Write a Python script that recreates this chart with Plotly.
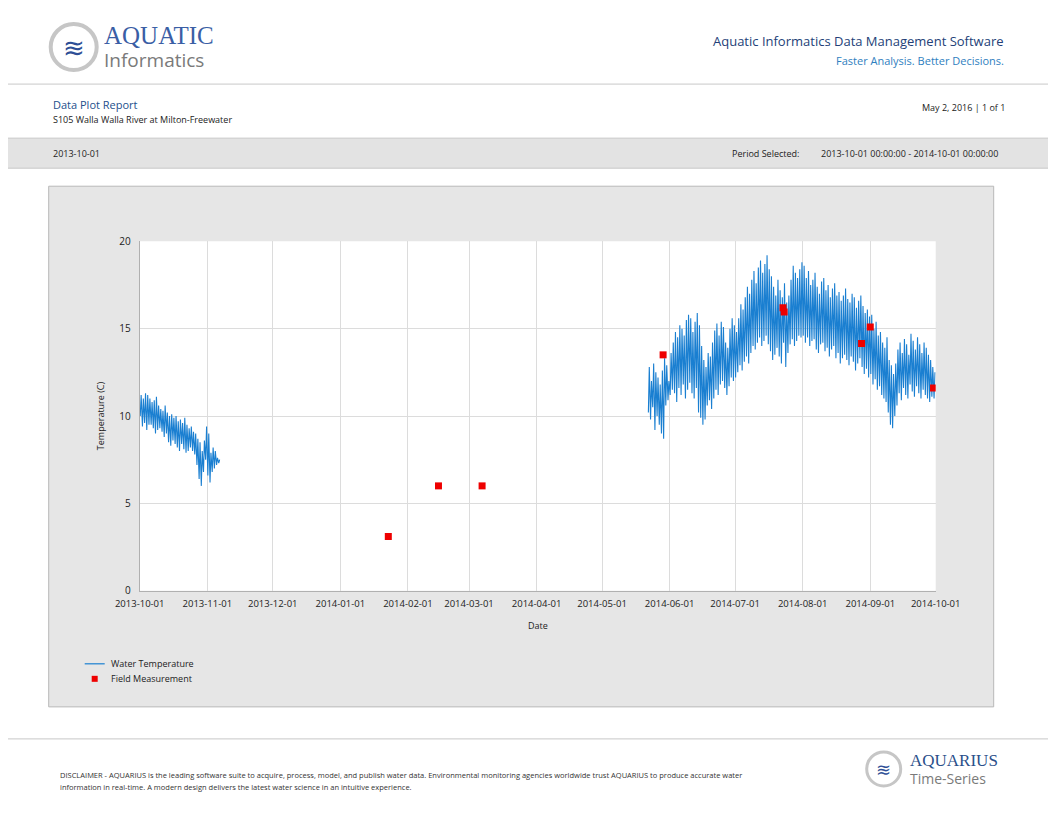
import pandas as pd
import plotly.graph_objects as go

W, H = 1056, 816

# daily min / max water temperature (C)
seg1_start = "2013-10-01"
seg1_max = [11.2, 11.0, 11.3, 11.2, 11.0, 10.8, 10.9, 11.1, 10.6, 10.4, 10.3, 10.6, 10.2, 10.0, 10.1,
            9.9, 10.0, 9.7, 9.8, 9.6, 9.9, 9.5, 9.3, 9.4, 9.1, 9.0, 8.7, 8.5, 8.0, 8.6, 9.4, 9.0,
            7.9, 8.2, 8.0, 7.6, 7.5]
seg1_min = [10.0, 9.4, 9.6, 9.2, 9.5, 9.5, 9.3, 9.0, 9.2, 9.3, 9.1, 8.8, 9.0, 8.5, 8.3,
            8.6, 8.4, 8.2, 8.0, 8.4, 8.1, 7.9, 8.0, 8.2, 8.0, 7.8, 7.2, 6.4, 6.0, 6.8, 7.5, 6.6,
            6.2, 6.8, 7.0, 7.2, 7.3]

seg2_start = "2014-05-22"
seg2_max = [12.8, 12.0, 13.0, 12.5, 12.2, 11.8, 12.6, 13.3, 12.9, 12.0,
            13.6, 14.2, 14.8, 14.5, 15.2, 15.0, 14.6, 15.5, 15.8, 15.6, 14.8, 15.4, 15.9, 15.2, 14.0,
            13.2, 12.8, 13.6, 13.4, 14.2, 14.9, 15.3, 14.6, 15.4, 15.1, 14.2, 13.9, 15.0, 15.6, 15.2,
            14.8, 15.6, 16.4, 16.1, 16.8, 17.4, 17.0, 17.8, 18.3, 17.6, 18.5, 18.9, 18.2, 18.7, 19.2,
            18.4, 18.0, 17.4, 16.9, 17.8, 17.2, 16.8, 17.6, 16.5, 16.9, 17.8, 18.6, 18.2, 17.9, 18.4, 18.8,
            18.6, 17.9, 18.3, 17.5, 17.8, 18.2, 17.4, 17.0, 17.7, 17.9, 17.2, 17.5, 16.8, 17.3, 17.6,
            16.9, 17.1, 16.6, 16.9, 17.3, 16.7, 16.5, 17.0, 16.8, 16.2, 16.6, 16.9, 16.3, 15.9, 16.1, 15.7,
            15.8, 15.0, 15.4, 14.6, 14.8, 14.2, 13.9, 14.5, 13.2, 12.9, 12.4, 13.0, 13.8, 14.2, 13.6,
            14.4, 14.1, 13.5, 14.7, 14.3, 13.8, 14.5, 14.1, 13.6, 14.2, 13.9, 13.5, 13.2, 12.8, 12.5]
seg2_min = [10.2, 9.8, 10.5, 9.2, 10.0, 9.5, 9.0, 8.7, 10.6, 10.9,
            11.2, 11.5, 11.3, 10.8, 11.6, 11.2, 11.8, 11.0, 11.5, 11.9, 11.3, 11.0, 11.6, 10.2, 9.9,
            9.5, 9.8, 10.6, 10.9, 10.4, 11.0, 11.5, 11.2, 11.8, 12.0, 11.6, 11.2, 11.7, 12.2, 12.0,
            12.2, 12.5, 12.9, 12.6, 13.1, 13.4, 13.0, 13.6, 14.0, 13.8, 14.2, 14.5, 14.0, 14.3, 14.6,
            14.1, 13.7, 13.2, 13.5, 13.9, 13.4, 13.0, 14.2, 12.8, 13.6, 14.1, 14.4, 14.0, 14.3, 14.6, 14.5,
            14.6, 14.2, 14.5, 14.0, 14.3, 14.4, 13.8, 13.6, 14.1, 14.2, 13.7, 13.9, 13.4, 13.8, 14.0,
            13.3, 13.6, 13.0, 13.3, 13.5, 13.2, 12.9, 13.4, 13.1, 12.6, 13.0, 13.3, 12.8, 12.4, 12.7, 12.2,
            12.4, 11.8, 12.1, 11.5, 11.7, 11.2, 11.0, 10.8, 10.2, 9.5, 9.3, 10.0, 10.6, 11.3, 10.9,
            11.6, 11.2, 11.0, 11.8, 11.4, 11.1, 11.7, 11.3, 11.0, 11.5, 11.2, 11.0, 10.8, 11.1, 11.0]

field_dates = ["2014-01-23 00:00", "2014-02-15 00:00", "2014-03-07 00:00", "2014-05-29 00:00",
               "2014-07-23 00:00", "2014-07-23 12:00", "2014-08-28 00:00", "2014-09-01 00:00",
               "2014-09-30 00:00"]
field_vals = [3.1, 6.0, 6.0, 13.5, 16.2, 15.95, 14.15, 15.1, 11.6]

LINE_C = "#1a7fd1"
MARK_C = "#ee0000"


def zigzag(start, mins, maxs):
    days = pd.date_range(start, periods=len(mins), freq="D")
    xs, ys = [], []
    for d, lo, hi in zip(days, mins, maxs):
        xs += [d + pd.Timedelta(hours=6), d + pd.Timedelta(hours=16)]
        ys += [lo, hi]
    return xs, ys


x1, y1 = zigzag(seg1_start, seg1_min, seg1_max)
x2, y2 = zigzag(seg2_start, seg2_min, seg2_max)
xs = x1 + [None] + x2
ys = y1 + [None] + y2

# page-pixel -> paper fraction (the page shows the paper offset/shrunk a little)
OX, OY, PW, PH = 32.3, 15.0, 1006.0, 802.0


def px(x):
    return (x - OX) / PW


def py(y):
    return 1 - (y - OY) / PH


fig = go.Figure()
fig.add_trace(go.Scatter(x=xs, y=ys, mode="lines", name="Water Temperature",
                         line=dict(color=LINE_C, width=1.1), connectgaps=False))
fig.add_trace(go.Scatter(x=field_dates, y=field_vals, mode="markers", name="Field Measurement",
                         marker=dict(symbol="square", color=MARK_C, size=7)))


def pshape(**kw):
    kw.setdefault("xref", "paper")
    kw.setdefault("yref", "paper")
    return kw


shapes = [
    pshape(type="line", x0=px(0), x1=px(W), y0=py(84), y1=py(84), line=dict(color="#c8c8c8", width=1)),
    pshape(type="rect", x0=px(-2), x1=px(W + 2), y0=py(168), y1=py(138), fillcolor="#e3e3e3", line=dict(color="#c8c8c8", width=1)),
    pshape(type="rect", x0=px(48), x1=px(993), y0=py(706), y1=py(186), fillcolor="#e6e6e6",
           line=dict(color="#b8b8b8", width=1), layer="below"),
    pshape(type="rect", x0=px(139), x1=px(935), y0=py(590), y1=py(241), fillcolor="white",
           line=dict(width=0), layer="below"),
    pshape(type="line", x0=px(0), x1=px(W), y0=py(738), y1=py(738), line=dict(color="#c8c8c8", width=1)),
    pshape(type="circle", x0=px(50), x1=px(96), y0=py(70), y1=py(24), line=dict(color="#c6c6c6", width=4), fillcolor="white"),
    pshape(type="circle", x0=px(866), x1=px(900), y0=py(785), y1=py(751), line=dict(color="#c6c6c6", width=3), fillcolor="white"),
    # manual legend swatches
    pshape(type="line", x0=px(84), x1=px(104), y0=py(663), y1=py(663), line=dict(color=LINE_C, width=1.2)),
    pshape(type="rect", x0=px(91), x1=px(97), y0=py(681), y1=py(675), fillcolor=MARK_C, line=dict(width=0)),
]

F = "Open Sans, Arial, sans-serif"
ann = []


def txt(x, y, s, size, color="#333", anchor="left", family=F, **kw):
    ann.append(dict(x=px(x), y=py(y), xref="paper", yref="paper", text=s, showarrow=False,
                    xanchor=anchor, yanchor="middle", font=dict(size=size, color=color, family=family), **kw))


txt(73, 47, "≋", 26, "#2e4f96", anchor="center")
txt(101, 35, "AQUATIC", 25, "#3a5ea5", family="Liberation Serif, serif")
txt(101, 60, "Informatics", 19, "#7a7a7a")
txt(1005, 41, "Aquatic Informatics Data Management Software", 13, "#243f78", anchor="right")
txt(1005, 60, "Faster Analysis. Better Decisions.", 11, "#2f80c0", anchor="right")
txt(50, 104, "Data Plot Report", 11, "#244f8c")
txt(50, 119, "S105 Walla Walla River at Milton-Freewater", 9, "#222")
txt(1006, 107, "May 2, 2016 | 1 of 1", 9, "#222", anchor="right")
txt(50, 153, "2013-10-01", 9, "#222")
txt(729, 153, "Period Selected:", 9, "#222")
txt(818, 153, "2013-10-01 00:00:00 - 2014-10-01 00:00:00", 9, "#222")
txt(100, 415, "Temperature (C)", 9, "#222", anchor="center", textangle=-90)
txt(537, 625, "Date", 9, "#222", anchor="center")
txt(108, 663, "Water Temperature", 9, "#222")
txt(108, 678, "Field Measurement", 9, "#222")
txt(57, 774, "DISCLAIMER - AQUARIUS is the leading software suite to acquire, process, model, and publish water data. "
    "Environmental monitoring agencies worldwide trust AQUARIUS to produce accurate water", 7.5, "#333")
txt(57, 786, "information in real-time. A modern design delivers the latest water science in an intuitive experience.", 7.5, "#333")
txt(883, 768, "≋", 18, "#2e4f96", anchor="center")
txt(907, 760, "AQUARIUS", 17, "#2b4f8a", family="Liberation Serif, serif")
txt(907, 778, "Time-Series", 14, "#7a7a7a")

fig.update_layout(
    width=W, height=H, margin=dict(l=0, r=0, t=0, b=0),
    paper_bgcolor="white", plot_bgcolor="white",
    font=dict(family=F, size=10, color="#222"),
    shapes=shapes, annotations=ann,
    showlegend=False,
    xaxis=dict(domain=[px(139), px(935)], range=["2013-10-01", "2014-10-01"], type="date",
               dtick="M1", tick0="2013-10-01", tickformat="%Y-%m-%d", showgrid=True, gridcolor="#dcdcdc",
               showline=True, linecolor="#b0b0b0", ticks="", zeroline=False, tickfont=dict(size=9.5),
               ticklabelstandoff=4),
    yaxis=dict(domain=[py(590), py(241)], range=[0, 20], dtick=5, showgrid=True, gridcolor="#dcdcdc",
               showline=True, linecolor="#b0b0b0", ticks="", zeroline=False, tickfont=dict(size=10),
               ticklabelstandoff=6),
)

fig.write_html("out.html")
